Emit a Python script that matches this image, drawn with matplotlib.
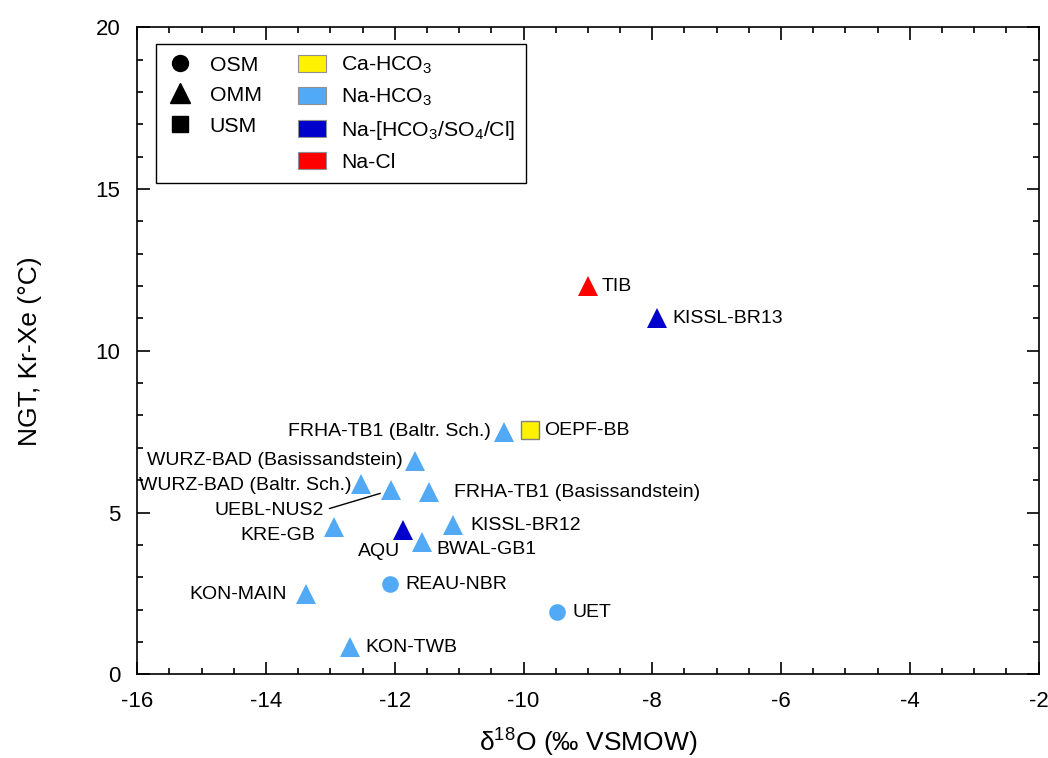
import numpy as np
import matplotlib
matplotlib.use('Agg')
import matplotlib.pyplot as plt
from matplotlib.lines import Line2D
from matplotlib.patches import Patch
from matplotlib.ticker import MultipleLocator

plt.rcParams['font.family'] = ['Liberation Sans', 'DejaVu Sans']
plt.rcParams['mathtext.fontset'] = 'custom'
plt.rcParams['mathtext.rm'] = 'Liberation Sans'
plt.rcParams['mathtext.default'] = 'regular'
plt.rcParams['axes.unicode_minus'] = False

# Wells: delta18O, noble gas temperature, aquifer unit, water type
wells = ['TIB', 'KISSL-BR13', 'OEPF-BB', 'FRHA-TB1 (Baltr. Sch.)',
         'WURZ-BAD (Basissandstein)', 'WURZ-BAD (Baltr. Sch.)', 'UEBL-NUS2',
         'FRHA-TB1 (Basissandstein)', 'KISSL-BR12', 'KRE-GB', 'AQU',
         'BWAL-GB1', 'REAU-NBR', 'KON-MAIN', 'UET', 'KON-TWB']
d18o = [-9.00, -7.93, -9.90, -10.31, -11.69, -12.53, -12.06, -11.47,
        -11.09, -12.94, -11.88, -11.58, -12.08, -13.38, -9.48, -12.70]
ngt = [12.0, 11.0, 7.55, 7.5, 6.6, 5.87, 5.69, 5.63, 4.6, 4.54, 4.46,
       4.08, 2.78, 2.47, 1.91, 0.83]
unit = ['OMM', 'OMM', 'USM', 'OMM', 'OMM', 'OMM', 'OMM', 'OMM', 'OMM',
        'OMM', 'OMM', 'OMM', 'OSM', 'OMM', 'OSM', 'OMM']
wtype = ['Na-Cl', 'Na-mix', 'Ca-HCO3', 'Na-HCO3', 'Na-HCO3', 'Na-HCO3',
         'Na-HCO3', 'Na-HCO3', 'Na-HCO3', 'Na-HCO3', 'Na-mix', 'Na-HCO3',
         'Na-HCO3', 'Na-HCO3', 'Na-HCO3', 'Na-HCO3']

unit_names = ['OSM', 'OMM', 'USM']
type_names = ['Ca-HCO3', 'Na-HCO3', 'Na-mix', 'Na-Cl']
type_labels = ['Ca-HCO$_3$', 'Na-HCO$_3$', 'Na-[HCO$_3$/SO$_4$/Cl]', 'Na-Cl']

markers = {'OSM': 'o', 'OMM': '^', 'USM': 's'}
msizes = {'OSM': 12, 'OMM': 15, 'USM': 12.5}
colors = {'Ca-HCO3': '#FFF200', 'Na-HCO3': '#52A9F5',
          'Na-mix': '#0000CC', 'Na-Cl': '#FF0000'}

# label offsets in pixels (dx, dy, ha)
offsets = {
    'TIB': (14, 0, 'left'), 'KISSL-BR13': (16, 0, 'left'),
    'OEPF-BB': (14, 0, 'left'),
    'FRHA-TB1 (Baltr. Sch.)': (-13, 0, 'right'),
    'WURZ-BAD (Basissandstein)': (-12, 0, 'right'),
    'WURZ-BAD (Baltr. Sch.)': (-9, -1, 'right'),
    'UEBL-NUS2': (-67, -20, 'right'),
    'FRHA-TB1 (Basissandstein)': (25, 0, 'left'),
    'KISSL-BR12': (17, 0, 'left'), 'KRE-GB': (-19, -8, 'right'),
    'AQU': (-24, -22, 'center'), 'BWAL-GB1': (15, -7, 'left'),
    'REAU-NBR': (16, 0, 'left'), 'KON-MAIN': (-19, 0, 'right'),
    'UET': (15, 0, 'left'), 'KON-TWB': (16, 0, 'left'),
}

fig = plt.figure(figsize=(10.48, 7.58), dpi=100)
ax = fig.add_axes([0.131, 0.1105, 0.860, 0.8535])

for name, x, y, u, t in zip(wells, d18o, ngt, unit, wtype):
    ec = '#808080' if t == 'Ca-HCO3' else colors[t]
    ax.plot(x, y, marker=markers[u], ms=msizes[u], color=colors[t],
            mec=ec, mew=1 if t == 'Ca-HCO3' else 0, ls='none', zorder=3)
    dx, dy, ha = offsets[name]
    kw = {}
    if name == 'UEBL-NUS2':
        kw['arrowprops'] = dict(arrowstyle='-', color='black', lw=1,
                                shrinkA=2, shrinkB=8, relpos=(1, 0.5))
    ax.annotate(name, (x, y), xytext=(dx * 0.72, dy * 0.72),
                textcoords='offset points', ha=ha, va='center',
                fontsize=14, zorder=4, **kw)

ax.set_xlim(-16, -2)
ax.set_ylim(0, 20)
ax.xaxis.set_major_locator(MultipleLocator(2))
ax.xaxis.set_minor_locator(MultipleLocator(0.5))
ax.yaxis.set_major_locator(MultipleLocator(5))
ax.yaxis.set_minor_locator(MultipleLocator(1))
ax.tick_params(which='both', direction='in', top=True, right=True,
               width=1.2, labelsize=16, pad=12)
ax.tick_params(which='major', length=9)
ax.tick_params(which='minor', length=4.5)
for s in ax.spines.values():
    s.set_linewidth(1.2)

ax.set_xlabel('δ$^{18}$O (‰ VSMOW)', fontsize=19, labelpad=11)
ax.set_ylabel('NGT, Kr-Xe (°C)', fontsize=19, labelpad=39)

# legend: aquifer units (black markers) and water types (colour patches)
handles = [Line2D([], [], marker=markers[u], color='black', ls='none',
                  ms=msizes[u] - 0.5) for u in unit_names]
handles.append(Line2D([], [], ls='none'))
handles += [Patch(facecolor=colors[t], edgecolor='#909090', lw=0.8)
            for t in type_names]
labels = unit_names + [''] + type_labels
leg = ax.legend(handles, labels, ncol=2, loc='upper left',
                bbox_to_anchor=(0.0204, 0.974), borderaxespad=0,
                fontsize=15.3, handlelength=1.32, handleheight=0.85,
                handletextpad=0.72, columnspacing=1.7, labelspacing=0.5,
                borderpad=0.5, fancybox=False, framealpha=1,
                edgecolor='black')
leg.get_frame().set_linewidth(1)

fig.savefig('out.png', dpi=100)
